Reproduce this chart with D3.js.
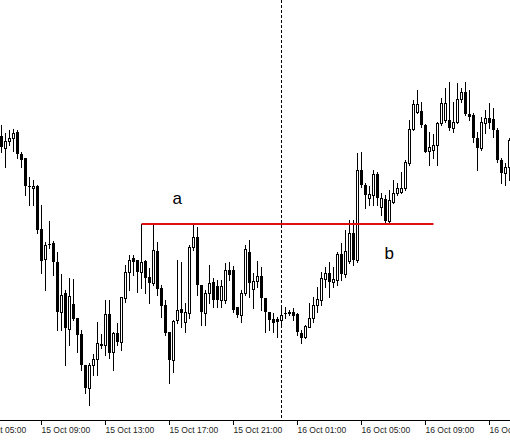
<!DOCTYPE html>
<html>
<head>
<meta charset="utf-8">
<script src="https://cdn.jsdelivr.net/npm/d3@7"></script>
<style>
	body { margin: 0; background: #fff; }
	svg { display: block; }
</style>
</head>
<body>
<svg id="mainsvg" width="510" height="440"></svg>
<script>
// M15 bars, first one on screen opens 15 Oct 06:30
var firstBar = "15 Oct 06:30";

var opens = [1.2984,1.2972,1.2979,1.2982,1.2988,1.2966,1.2962,1.2934,1.2932,1.2934,
	1.2891,1.2861,1.2876,1.2877,1.2858,1.2808,1.2827,1.2791,1.2816,1.2802,
	1.2786,1.2755,1.2732,1.2755,1.2761,1.2775,1.2775,1.2806,1.2768,1.2787,
	1.2778,1.2822,1.2848,1.2862,1.2860,1.2848,1.2859,1.2843,1.2837,1.2869,
	1.2832,1.2815,1.2788,1.2760,1.2800,1.2811,1.2798,1.2807,1.2873,1.2883,
	1.2835,1.2807,1.2827,1.2838,1.2834,1.2820,1.2820,1.2850,1.2850,1.2813,
	1.2805,1.2827,1.2868,1.2831,1.2839,1.2844,1.2822,1.2808,1.2801,1.2801,
	1.2800,1.2807,1.2807,1.2808,1.2806,1.2787,1.2783,1.2793,1.2802,1.2815,
	1.2820,1.2841,1.2847,1.2838,1.2840,1.2866,1.2846,1.2859,1.2887,1.2860,
	1.2950,1.2935,1.2922,1.2925,1.2946,1.2913,1.2921,1.2899,1.2918,1.2927,
	1.2928,1.2932,1.2957,1.2991,1.3008,1.3009,1.2995,1.2969,1.2970,1.2975,
	1.2997,1.3000,1.3000,1.2992,1.2998,1.3021,1.3028,1.3006,1.3005,1.2982,
	1.2972,1.2997,1.3002,1.3001,1.2990,1.2960,1.2947,1.2953];

var highs = [1.2995,1.2987,1.2990,1.2991,1.2990,1.2968,1.2962,1.2943,1.2940,1.2935,
	1.2915,1.2878,1.2899,1.2879,1.2868,1.2846,1.2830,1.2842,1.2841,1.2802,
	1.2790,1.2755,1.2757,1.2766,1.2798,1.2786,1.2820,1.2820,1.2788,1.2797,
	1.2823,1.2855,1.2865,1.2865,1.2860,1.2896,1.2860,1.2852,1.2896,1.2878,
	1.2835,1.2820,1.2788,1.2800,1.2860,1.2858,1.2817,1.2875,1.2896,1.2893,
	1.2835,1.2830,1.2855,1.2842,1.2840,1.2840,1.2857,1.2858,1.2854,1.2813,
	1.2830,1.2875,1.2880,1.2847,1.2859,1.2853,1.2822,1.2808,1.2807,1.2803,
	1.2813,1.2813,1.2810,1.2812,1.2807,1.2790,1.2795,1.2817,1.2823,1.2833,
	1.2848,1.2853,1.2858,1.2853,1.2868,1.2877,1.2890,1.2900,1.2900,1.2967,
	1.2968,1.2937,1.2934,1.2950,1.2948,1.2927,1.2925,1.2930,1.2940,1.2937,
	1.2948,1.2960,1.3000,1.3020,1.3030,1.3018,1.2996,1.2988,1.2986,1.2998,
	1.3022,1.3032,1.3038,1.3018,1.3037,1.3032,1.3038,1.3030,1.3007,1.2988,
	1.3003,1.3010,1.3017,1.3012,1.2992,1.2962,1.2957,1.2982];

var lows = [1.2968,1.2953,1.2975,1.2969,1.2962,1.2953,1.2925,1.2915,1.2915,1.2887,
	1.2847,1.2830,1.2872,1.2845,1.2790,1.2790,1.2755,1.2775,1.2800,1.2768,
	1.2750,1.2727,1.2715,1.2745,1.2745,1.2772,1.2765,1.2762,1.2750,1.2775,
	1.2770,1.2818,1.2830,1.2845,1.2828,1.2832,1.2827,1.2817,1.2835,1.2825,
	1.2803,1.2785,1.2737,1.2748,1.2797,1.2793,1.2788,1.2802,1.2870,1.2825,
	1.2795,1.2795,1.2817,1.2813,1.2813,1.2813,1.2817,1.2840,1.2808,1.2803,
	1.2798,1.2825,1.2823,1.2812,1.2833,1.2810,1.2788,1.2790,1.2788,1.2783,
	1.2795,1.2802,1.2805,1.2800,1.2785,1.2777,1.2782,1.2793,1.2798,1.2808,
	1.2815,1.2833,1.2823,1.2833,1.2835,1.2840,1.2843,1.2857,1.2855,1.2858,
	1.2933,1.2912,1.2915,1.2915,1.2915,1.2905,1.2897,1.2897,1.2917,1.2925,
	1.2927,1.2930,1.2955,1.2990,1.3007,1.2993,1.2968,1.2955,1.2962,1.2955,
	1.2995,1.2998,1.2990,1.2988,1.2997,1.3018,1.3005,1.3000,1.2978,1.2950,
	1.2970,1.2987,1.2992,1.2983,1.2958,1.2937,1.2935,1.2940];

var closes = [1.2973,1.2979,1.2982,1.2987,1.2966,1.2960,1.2934,1.2933,1.2934,1.2890,
	1.2859,1.2875,1.2876,1.2858,1.2808,1.2825,1.2792,1.2824,1.2801,1.2785,
	1.2755,1.2732,1.2755,1.2761,1.2777,1.2776,1.2806,1.2767,1.2787,1.2778,
	1.2823,1.2848,1.2860,1.2858,1.2848,1.2858,1.2842,1.2837,1.2870,1.2831,
	1.2814,1.2787,1.2760,1.2799,1.2810,1.2807,1.2808,1.2873,1.2883,1.2835,
	1.2808,1.2827,1.2837,1.2820,1.2820,1.2834,1.2850,1.2845,1.2810,1.2805,
	1.2827,1.2871,1.2837,1.2839,1.2844,1.2822,1.2808,1.2800,1.2797,1.2798,
	1.2805,1.2807,1.2808,1.2804,1.2788,1.2782,1.2794,1.2802,1.2815,1.2821,
	1.2842,1.2847,1.2838,1.2841,1.2866,1.2846,1.2869,1.2887,1.2860,1.2950,
	1.2935,1.2925,1.2926,1.2946,1.2922,1.2922,1.2899,1.2920,1.2927,1.2932,
	1.2932,1.2958,1.2991,1.3016,1.3016,1.2995,1.2968,1.2973,1.2975,1.2997,
	1.3017,1.3017,1.2992,1.2998,1.3021,1.3028,1.3006,1.3003,1.2982,1.2972,
	1.2998,1.3002,1.2997,1.2990,1.2960,1.2947,1.2953,1.2980];

var tickLabels = ["15 Oct 05:00", "15 Oct 09:00", "15 Oct 13:00", "15 Oct 17:00", "15 Oct 21:00",
	"16 Oct 01:00", "16 Oct 05:00", "16 Oct 09:00", "16 Oct 13:00"];

var daySeparator = "16 Oct 00:00";

// horizontal level drawn by hand on the chart
var level = { from: "15 Oct 15:15", to: "16 Oct 09:30", price: 1.2896 };

var notes = [
	{ text: "a", time: "15 Oct 17:15", price: 1.2916 },
	{ text: "b", time: "16 Oct 06:30", price: 1.2861 }
];

var W = 510, H = 440;
var axisY = 420;

var parseTime = d3.utcParse("%d %b %H:%M");
var t0 = parseTime(firstBar);
var n = opens.length;

var bars = opens.map(function(o, i) {
	return {
		time: d3.utcMinute.offset(t0, 15 * i),
		open: o,
		high: highs[i],
		low: lows[i],
		close: closes[i]
	};
});

var x = d3.scaleUtc()
	.domain([bars[0].time, bars[n - 1].time])
	.range([1.5, 1.5 + 4 * (n - 1)]);

var y = d3.scaleLinear()
	.domain([1.2700, 1.3120])
	.range([axisY, 0]);

var svg = d3.select("#mainsvg");

svg.append("rect")
	.attr("width", W)
	.attr("height", H)
	.attr("fill", "#fff");

// day separator
svg.append("line")
	.attr("x1", x(parseTime(daySeparator)))
	.attr("x2", x(parseTime(daySeparator)))
	.attr("y1", 0)
	.attr("y2", axisY)
	.attr("stroke", "#000")
	.attr("stroke-width", 1)
	.attr("stroke-dasharray", "3,2")
	.attr("shape-rendering", "crispEdges");

var candles = svg.append("g")
	.attr("class", "candles")
	.attr("shape-rendering", "crispEdges")
	.selectAll("g")
	.data(bars)
	.enter().append("g");

candles.append("line")
	.attr("x1", function(d) { return x(d.time); })
	.attr("x2", function(d) { return x(d.time); })
	.attr("y1", function(d) { return Math.round(y(d.high)); })
	.attr("y2", function(d) { return Math.round(y(d.low)) + 1; })
	.attr("stroke", "#000")
	.attr("stroke-width", 1);

candles.append("rect")
	.attr("x", function(d) {
		return d.close > d.open ? x(d.time) - 1 : x(d.time) - 1.5;
	})
	.attr("y", function(d) {
		var top = Math.round(y(Math.max(d.open, d.close)));
		return d.close > d.open ? top + 0.5 : top;
	})
	.attr("width", function(d) { return d.close > d.open ? 2 : 3; })
	.attr("height", function(d) {
		var top = Math.round(y(Math.max(d.open, d.close)));
		var bot = Math.round(y(Math.min(d.open, d.close)));
		if (d.close > d.open) return Math.max(bot - top, 1);
		return Math.max(bot - top, 1);
	})
	.attr("fill", function(d) { return d.close > d.open ? "#fff" : "#000"; })
	.attr("stroke", function(d) { return d.close > d.open ? "#000" : "none"; })
	.attr("stroke-width", 1);

// support / resistance level
svg.append("line")
	.attr("x1", x(parseTime(level.from)))
	.attr("x2", x(parseTime(level.to)))
	.attr("y1", y(level.price))
	.attr("y2", y(level.price))
	.attr("stroke", "#dd1111")
	.attr("stroke-width", 2);

svg.selectAll("text.note")
	.data(notes)
	.enter().append("text")
	.attr("class", "note")
	.attr("x", function(d) { return x(parseTime(d.time)) - 1; })
	.attr("y", function(d) { return y(d.price); })
	.attr("font-family", "'Liberation Sans', Arial, sans-serif")
	.attr("font-size", 17)
	.attr("fill", "#000")
	.text(function(d) { return d.text; });

// time axis, MT4 style: labels start at the tick
var axis = svg.append("g").attr("class", "axis");

axis.append("line")
	.attr("x1", 0)
	.attr("x2", W)
	.attr("y1", axisY + 0.5)
	.attr("y2", axisY + 0.5)
	.attr("stroke", "#000");

var ticks = axis.selectAll("g.tick")
	.data(tickLabels)
	.enter().append("g")
	.attr("class", "tick")
	.attr("transform", function(d) { return "translate(" + x(parseTime(d)) + ",0)"; });

ticks.append("line")
	.attr("y1", axisY)
	.attr("y2", axisY + 5)
	.attr("stroke", "#000")
	.attr("shape-rendering", "crispEdges");

ticks.append("text")
	.attr("x", 0)
	.attr("y", axisY + 13)
	.attr("font-family", "'Liberation Sans', Arial, sans-serif")
	.attr("font-size", 8.5)
	.attr("fill", "#222")
	.text(function(d) { return d; });
</script>
</body>
</html>
